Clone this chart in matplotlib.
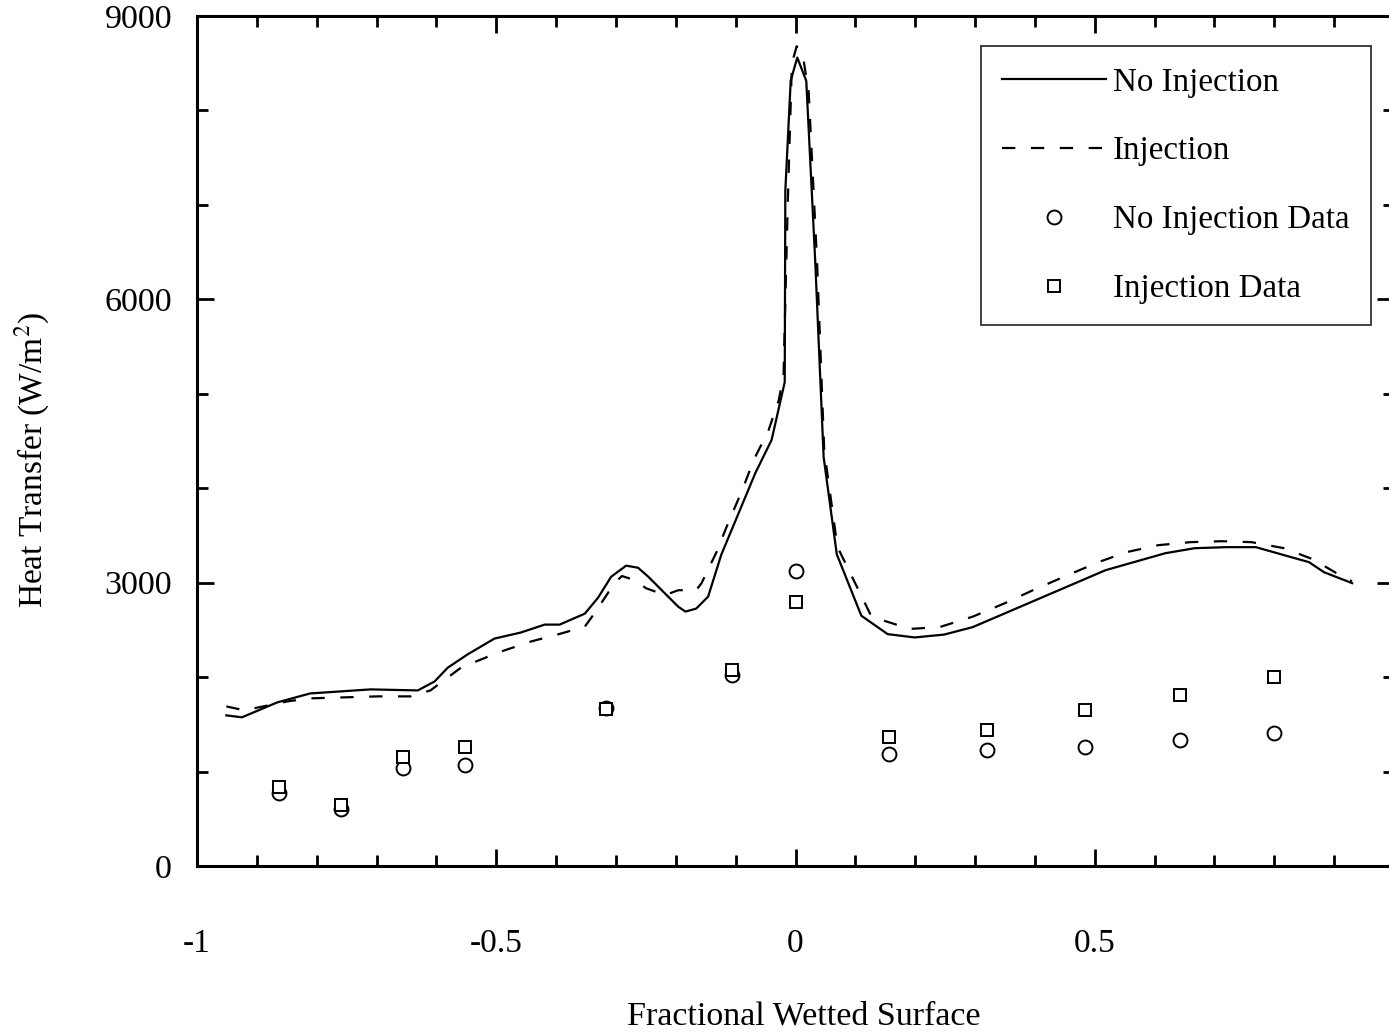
import matplotlib
matplotlib.use("Agg")
import matplotlib.pyplot as plt
from matplotlib.ticker import MultipleLocator, FixedLocator

# ---- computed heat-transfer profiles ----
x_no_inj = [-0.951, -0.925, -0.866, -0.811, -0.710, -0.631, -0.603, -0.581, -0.548,
            -0.503, -0.459, -0.419, -0.394, -0.352, -0.330, -0.308, -0.283, -0.263,
            -0.246, -0.196, -0.184, -0.166, -0.146, -0.124, -0.067, -0.040, -0.018,
            -0.017, -0.008, 0.003, 0.018, 0.033, 0.047, 0.069, 0.110, 0.154, 0.199,
            0.248, 0.296, 0.409, 0.518, 0.618, 0.667, 0.720, 0.769, 0.858, 0.883, 0.930]
y_no_inj = [1595, 1574, 1732, 1827, 1870, 1859, 1954, 2100, 2240,
            2408, 2472, 2556, 2556, 2672, 2840, 3063, 3180, 3158,
            3063, 2746, 2694, 2725, 2852, 3296, 4162, 4510, 5123,
            7150, 8317, 8560, 8313, 6400, 4330, 3300, 2650, 2455, 2420,
            2450, 2529, 2836, 3132, 3312, 3365, 3376, 3376, 3217, 3111, 2995]

x_inj = [-0.951, -0.921, -0.849, -0.811, -0.698, -0.643, -0.610, -0.559, -0.497,
         -0.442, -0.392, -0.352, -0.335, -0.302, -0.290, -0.268, -0.250, -0.218,
         -0.196, -0.166, -0.157, -0.132, -0.112, -0.089, -0.070, -0.045, -0.028,
         -0.020, -0.013, -0.006, 0.002, 0.013, 0.022, 0.036, 0.048, 0.070, 0.127,
         0.191, 0.241, 0.296, 0.350, 0.397, 0.451, 0.506, 0.553, 0.606, 0.660,
         0.712, 0.762, 0.816, 0.864, 0.918, 0.930]
y_inj = [1690, 1648, 1743, 1775, 1796, 1796, 1859, 2100, 2260,
         2377, 2461, 2535, 2683, 3000, 3070, 3026, 2942, 2868,
         2920, 2920, 2995, 3323, 3640, 3979, 4296, 4614, 4931,
         5196, 7000, 8500, 8680, 8550, 8200, 6400, 4400, 3380, 2640,
         2510, 2530, 2640, 2783, 2921, 3069, 3217, 3323, 3397, 3429,
         3439, 3429, 3365, 3249, 3048, 3016]

# ---- measured data ----
x_data = [-0.863, -0.760, -0.655, -0.553, -0.317, -0.106, 0.0, 0.157, 0.320, 0.484, 0.643, 0.799]
y_no_inj_data = [772, 603, 1037, 1069, 1672, 2021, 3122, 1185, 1228, 1259, 1333, 1407]
y_inj_data = [836, 646, 1153, 1259, 1661, 2074, 2794, 1365, 1439, 1651, 1810, 2000]

x_ticks = [-1, -0.5, 0, 0.5]
x_tick_labels = ["-1", "-0.5", "0", "0.5"]
y_ticks = [0, 3000, 6000, 9000]
y_tick_labels = ["0", "3000", "6000", "9000"]

plt.rcParams["font.family"] = ["Liberation Serif", "DejaVu Serif"]
plt.rcParams["mathtext.fontset"] = "stix"

W, H = 1389, 1033
fig = plt.figure(figsize=(W / 100, H / 100), dpi=100)
left, right, bottom, top = 197, 1394, 866, 16
ax = fig.add_axes([left / W, 1 - bottom / H, (right - left) / W, (bottom - top) / H])

ax.plot(x_no_inj, y_no_inj, color="black", lw=1.6, label="No Injection")
ax.plot(x_inj, y_inj, color="black", lw=1.6, dashes=(6, 7), label="Injection")
ax.plot(x_data, y_no_inj_data, linestyle="none", marker="o", ms=10, mfc="white",
        mec="black", mew=1.4, label="No Injection Data")
ax.plot(x_data, y_inj_data, linestyle="none", marker="s", ms=8, mfc="white",
        mec="black", mew=1.4, label="Injection Data")

ax.set_xlim(-1, 1)
ax.set_ylim(0, 9000)
ax.xaxis.set_major_locator(FixedLocator(x_ticks))
ax.set_xticklabels(x_tick_labels)
ax.xaxis.set_minor_locator(FixedLocator([i / 10 for i in range(-9, 10)]))
ax.yaxis.set_major_locator(FixedLocator(y_ticks))
ax.set_yticklabels(y_tick_labels)
ax.yaxis.set_minor_locator(MultipleLocator(1000))

ax.tick_params(which="both", direction="in", top=True, right=True, width=2, color="black")
ax.tick_params(which="major", length=12)
ax.tick_params(which="minor", length=8)
ax.tick_params(axis="x", which="major", labelsize=24, pad=45)
ax.tick_params(axis="y", which="major", labelsize=24.5, pad=18)

for sp in ax.spines.values():
    sp.set_linewidth(2.2)

ax.set_xlabel("Fractional Wetted Surface", fontsize=24.5, labelpad=30, x=0.507)
ax.set_ylabel("Heat Transfer (W/m$^2$)", fontsize=24, labelpad=38, y=0.478)

leg = ax.legend(loc="upper right", bbox_to_anchor=(1371 / W, 1 - 46 / H),
                bbox_transform=fig.transFigure, borderaxespad=0, fontsize=23.8,
                fancybox=False, frameon=True, edgecolor="black", handlelength=3.15,
                handletextpad=0.22, labelspacing=1.16, borderpad=0.64)
leg.get_frame().set_linewidth(1.3)

fig.savefig("out.png", dpi=100)
